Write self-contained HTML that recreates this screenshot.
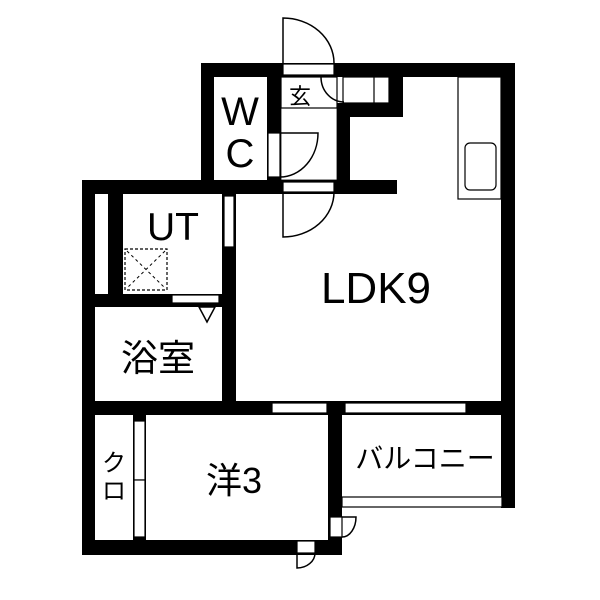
<!DOCTYPE html>
<html><head><meta charset="utf-8"><style>html,body{margin:0;padding:0;background:#fff}svg{display:block}text{font-family:"Liberation Sans","Noto Sans CJK JP",sans-serif;fill:#000}</style></head><body>
<svg width="600" height="600" viewBox="0 0 600 600" xmlns="http://www.w3.org/2000/svg">
<g fill="#000">
<rect x="201" y="63" width="314" height="14"/>
<rect x="501" y="63" width="14" height="445"/>
<rect x="201" y="63" width="13" height="131"/>
<rect x="267" y="63" width="14" height="131"/>
<rect x="337" y="103" width="13" height="91"/>
<rect x="337" y="103" width="66" height="14"/>
<rect x="389" y="63" width="14" height="54"/>
<rect x="82" y="180" width="315" height="14"/>
<rect x="82" y="180" width="13" height="375"/>
<rect x="108" y="193" width="15" height="102"/>
<rect x="222" y="193" width="14" height="222"/>
<rect x="82" y="294" width="154" height="13"/>
<rect x="82" y="401" width="433" height="14"/>
<rect x="328" y="401" width="14" height="154"/>
<rect x="82" y="540" width="260" height="15"/>
<rect x="133" y="415" width="13" height="125"/>
</g>
<g fill="#fff" stroke="#000" stroke-width="1.2">
<rect x="283" y="64" width="51" height="11"/>
<rect x="268" y="133" width="12" height="44"/>
<rect x="283" y="182" width="51" height="10"/>
<rect x="96" y="196" width="11" height="97" stroke="#fff"/>
<rect x="224" y="196" width="10" height="51"/>
<rect x="172" y="295" width="47" height="8"/>
<rect x="272" y="403" width="55" height="10"/>
<rect x="345" y="403" width="121" height="10"/>
<rect x="134" y="421" width="11" height="59"/>
<rect x="134" y="480" width="11" height="57"/>
<rect x="297" y="541" width="18" height="12"/>
<rect x="330" y="517" width="12" height="20"/>
<rect x="342" y="497" width="160" height="10"/>
<rect x="281" y="77" width="56" height="31" fill="none"/>
<rect x="343" y="77" width="46" height="26"/>
<line x1="374" y1="77" x2="374" y2="103"/>
<rect x="458" y="77" width="43" height="122"/>
<rect x="465" y="143" width="31" height="47" rx="5"/>
<rect x="281" y="108" width="56" height="72" fill="none" stroke-width="0.8"/>
</g>
<g fill="none" stroke="#000" stroke-width="1.5">
<path d="M283 63 V18 A51 45 0 0 1 334 63"/>
<path d="M321 77 A23 25 0 0 0 344 102"/>
<path d="M280 133 H318 A38 44 0 0 1 280 177"/>
<path d="M283 192 V237 A51 45 0 0 0 334 192"/>
<path d="M297 553 V568 A18 15 0 0 0 315 553"/>
<path d="M342 517 H356 A14 20 0 0 1 342 537"/>
<path d="M199 307 L215 307 L207 322 Z"/>
<rect x="125" y="249" width="42" height="41" stroke-dasharray="3,2" stroke-width="1.2"/>
<path d="M127 251 L165 288 M165 251 L127 288" stroke-dasharray="3,3" stroke-width="1"/>
</g>
<text x="240" y="125" font-size="40" text-anchor="middle">W</text>
<text x="240" y="167" font-size="40" text-anchor="middle">C</text>
<text x="300" y="104" font-size="22" text-anchor="middle">玄</text>
<text x="173" y="240" font-size="39" text-anchor="middle">UT</text>
<text x="376" y="303" font-size="44" text-anchor="middle">LDK9</text>
<text x="158" y="371" font-size="37" text-anchor="middle">浴室</text>
<text x="234" y="493" font-size="36" text-anchor="middle">洋3</text>
<text x="425" y="468" font-size="28" text-anchor="middle">バルコニー</text>
<text x="114" y="471" font-size="24" text-anchor="middle">ク</text>
<text x="114" y="499" font-size="24" text-anchor="middle">ロ</text>
</svg>
</body></html>
